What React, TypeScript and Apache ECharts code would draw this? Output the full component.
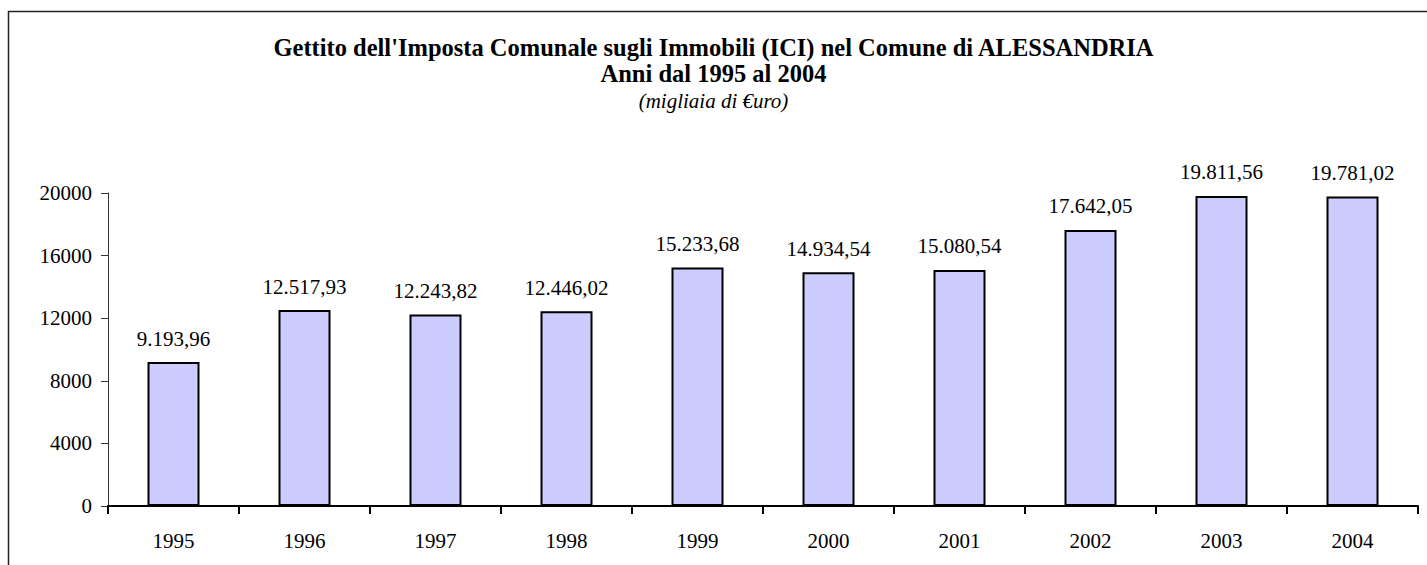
import React, { useEffect, useRef } from "react";
import * as echarts from "echarts";

const titleLines = [
  "Gettito dell'Imposta Comunale sugli Immobili (ICI) nel Comune di ALESSANDRIA",
  "Anni dal 1995 al 2004",
];
const subtitle = "(migliaia di €uro)";
const years = ["1995", "1996", "1997", "1998", "1999", "2000", "2001", "2002", "2003", "2004"];
const values = [9193.96, 12517.93, 12243.82, 12446.02, 15233.68, 14934.54, 15080.54, 17642.05, 19811.56, 19781.02];
const yTicks = { min: 0, max: 20000, interval: 4000 };

const FONT = "Liberation Serif";

function fmtIt(v: number): string {
  const [i, d] = v.toFixed(2).split(".");
  const ip = i.replace(/\B(?=(\d{3})+(?!\d))/g, ".");
  return ip + "," + d;
}

export default function App() {
  const ref = useRef<HTMLDivElement>(null);
  useEffect(() => {
    if (!ref.current) return;
    const chart = echarts.init(ref.current, undefined, { renderer: "svg" });
    chart.setOption({
      animation: false,
      backgroundColor: "#fff",
      textStyle: { fontFamily: FONT },
      graphic: [
        {
          type: "rect",
          z: -1,
          shape: { x: 8.5, y: 11.5, width: 1700, height: 900 },
          style: { fill: "none", stroke: "#222", lineWidth: 1.5 },
        },
      ],
      title: [
        {
          text: titleLines[0],
          left: "center",
          top: 35,
          padding: 0,
          textStyle: { fontFamily: FONT, fontSize: 24.5, fontWeight: "bold", color: "#000" },
        },
        {
          text: titleLines[1],
          left: "center",
          top: 61,
          padding: 0,
          textStyle: { fontFamily: FONT, fontSize: 24.5, fontWeight: "bold", color: "#000" },
        },
        {
          text: subtitle,
          left: "center",
          top: 90,
          padding: 0,
          textStyle: { fontFamily: FONT, fontSize: 21, fontWeight: "normal", fontStyle: "italic", color: "#000" },
        },
      ],
      grid: { left: 108, right: 9, top: 193, bottom: 59, containLabel: false },
      xAxis: {
        type: "category",
        data: years,
        boundaryGap: true,
        axisLine: { show: true, lineStyle: { color: "#000", width: 2 } },
        axisTick: { show: true, alignWithLabel: false, length: 8, lineStyle: { color: "#000", width: 2 } },
        axisLabel: { fontFamily: FONT, fontSize: 21, color: "#000", margin: 24 },
        splitLine: { show: false },
      },
      yAxis: {
        type: "value",
        min: yTicks.min,
        max: yTicks.max,
        interval: yTicks.interval,
        axisLine: { show: true, lineStyle: { color: "#333", width: 1 } },
        axisTick: { show: true, length: 7, lineStyle: { color: "#333", width: 1 } },
        axisLabel: {
          fontFamily: FONT,
          fontSize: 21,
          color: "#000",
          margin: 16,
          formatter: (v: number) => String(v),
        },
        splitLine: { show: false },
      },
      series: [
        {
          type: "bar",
          data: values,
          barWidth: 52,
          itemStyle: { color: "#CCCCFF", borderColor: "#000", borderWidth: 2 },
          label: {
            show: true,
            position: "top",
            distance: 13,
            fontFamily: FONT,
            fontSize: 21,
            color: "#000",
            formatter: (p: any) => fmtIt(p.value),
          },
        },
      ],
    });
    return () => chart.dispose();
  }, []);
  return (
    <div
      ref={ref}
      style={{ position: "fixed", left: 0, top: 0, width: 1427, height: 565, fontFamily: "Liberation Serif" }}
    />
  );
}
